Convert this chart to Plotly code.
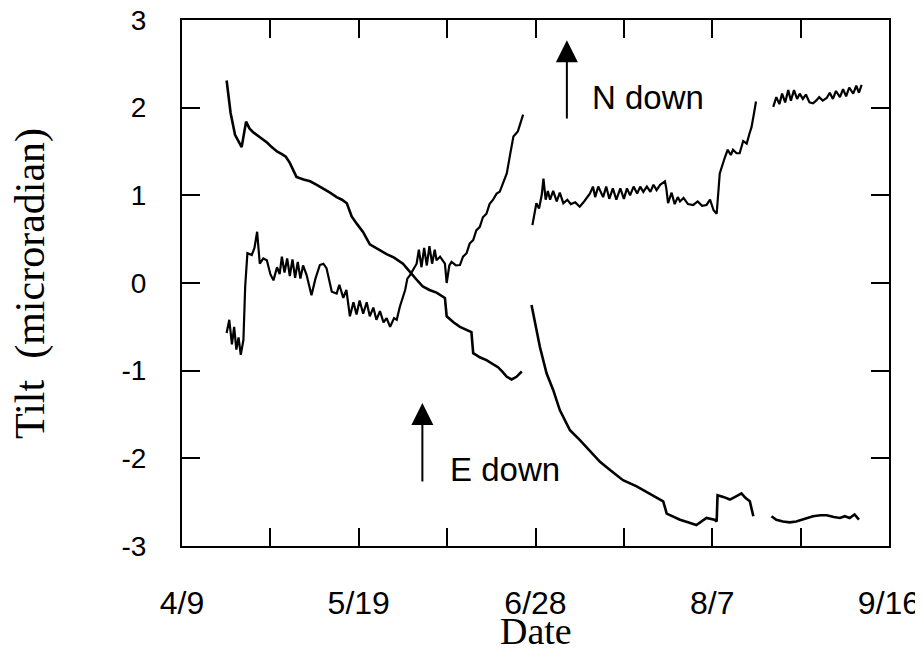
import plotly.graph_objects as go

# ---- data (days since 4/9, tilt in microradian) ----
tick_days = [0, 20, 40, 60, 80, 100, 120, 140, 160]
tick_text = ["4/9", "", "5/19", "", "6/28", "", "8/7", "", "9/16"]
y_ticks = [-3, -2, -1, 0, 1, 2, 3]
y_tick_text = ["-3", "-2", "-1", "0", "1", "2", "3"]

east_day = [10.1, 11.0, 12.0, 12.8, 13.5, 14.5, 15.3, 16.1, 17.2, 18.3, 19.3, 20.3, 21.5, 22.6, 23.5,
            24.4, 25.9, 27.5, 29.0, 30.5, 31.9, 33.5, 35.0, 36.2, 37.3, 38.4, 39.5, 41.0, 42.5, 44.5,
            46.3, 48.0, 50.0, 51.2, 52.3, 53.4, 54.5, 56.0, 57.6, 59.5, 59.9, 61.5, 62.9, 64.3, 65.5,
            65.9, 67.5, 68.9, 70.2, 71.5, 72.5, 73.5, 74.6, 75.7, 76.9,
            None,
            79.1, 80.0, 81.0, 82.5, 84.0, 85.5, 86.7, 87.8, 90.0, 92.3, 94.6, 96.8, 99.8, 102.9, 106.6,
            108.9, 109.7, 111.0, 112.7, 114.5, 116.4, 118.7, 120.5, 121.0, 121.2, 122.5, 124.0, 125.5,
            126.6, 127.5, 128.5, 129.3,
            None,
            133.4, 134.5, 136.0, 137.5, 139.0, 141.0, 142.8, 144.5, 145.9, 147.5, 148.9, 150.0, 151.1,
            152.2, 153.2]
east_tilt = [2.31, 1.94, 1.69, 1.62, 1.55, 1.84, 1.76, 1.72, 1.68, 1.63, 1.60, 1.55, 1.50, 1.47, 1.44,
             1.37, 1.21, 1.18, 1.16, 1.12, 1.08, 1.03, 0.98, 0.95, 0.91, 0.76, 0.68, 0.58, 0.44, 0.38,
             0.33, 0.29, 0.22, 0.15, 0.08, 0.02, -0.04, -0.08, -0.11, -0.17, -0.38, -0.45, -0.50, -0.53, -0.56,
             -0.80, -0.85, -0.88, -0.92, -0.96, -1.01, -1.07, -1.10, -1.07, -1.01,
             None,
             -0.25, -0.48, -0.73, -1.03, -1.22, -1.45, -1.58, -1.68, -1.79, -1.92, -2.04, -2.13, -2.25, -2.32, -2.42,
             -2.49, -2.63, -2.66, -2.70, -2.73, -2.76, -2.68, -2.70, -2.72, -2.42, -2.44, -2.47, -2.43,
             -2.40, -2.45, -2.49, -2.66,
             None,
             -2.66, -2.70, -2.72, -2.73, -2.72, -2.69, -2.66, -2.65, -2.65, -2.67, -2.68, -2.66, -2.68,
             -2.64, -2.70]

north_day = [10.1, 10.7, 11.3, 11.8, 12.3, 12.8, 13.3, 13.9, 14.3, 14.8, 15.8, 16.4, 17.0, 17.6, 18.4,
             19.2, 20.0, 20.7, 21.5, 22.1, 22.6, 23.2, 23.8, 24.4, 25.0, 25.6, 26.2, 26.8, 27.4, 28.2,
             29.3, 30.2, 31.2, 32.0, 32.7, 33.9, 35.0, 35.6, 36.5, 37.2, 38.0, 38.8, 39.5, 40.2, 41.0,
             41.8, 42.5, 43.3, 44.0, 44.8, 45.6, 46.3, 47.1, 48.0, 48.6, 49.3, 50.5, 51.0, 51.6, 52.3,
             53.1, 53.6, 54.2, 54.8, 55.4, 56.0, 56.6, 57.2, 57.6, 58.4, 59.5, 59.9, 60.5, 61.0, 62.0,
             62.9, 63.6, 64.4, 65.1, 65.9, 66.6, 67.4, 68.1, 68.9, 69.6, 70.4, 71.2, 71.9, 72.7, 73.5,
             74.2, 75.0, 76.0, 77.2,
             None,
             79.3, 80.2, 80.8, 81.4, 81.8, 82.3, 82.8, 83.3, 84.0, 84.8, 85.5, 86.3, 87.2, 88.0, 89.0,
             90.0, 91.0, 92.3, 93.0, 93.5, 94.2, 95.3, 96.0, 96.7, 97.5, 98.3, 99.2, 100.0, 100.7, 101.4,
             102.2, 103.0, 103.7, 104.4, 105.2, 106.0, 106.7, 107.4, 108.2, 109.3, 109.6, 110.0, 110.8,
             111.5, 112.2, 112.7, 113.5, 114.5, 115.7, 116.7, 117.7, 118.7, 119.5, 120.3, 121.0, 121.7,
             122.9, 123.5, 124.2, 124.7, 125.5, 126.2, 127.0, 127.8, 128.4, 128.9, 129.5, 129.9,
             None,
             133.8, 134.5, 135.2, 135.8, 136.5, 137.2, 137.8, 138.5, 139.2, 139.8, 140.5, 141.2, 142.0,
             142.8, 143.5, 144.2, 145.0, 145.9, 146.6, 147.3, 148.0, 148.9, 149.6, 150.3, 151.0, 151.9,
             152.6, 153.2, 153.8]
north_tilt = [-0.57, -0.42, -0.70, -0.50, -0.76, -0.62, -0.82, -0.65, -0.04, 0.34, 0.32, 0.40, 0.585, 0.22, 0.28,
              0.26, 0.10, 0.03, 0.18, 0.10, 0.30, 0.12, 0.28, 0.08, 0.27, 0.06, 0.24, 0.05, 0.20, 0.09,
              -0.14, 0.05, 0.205, 0.22, 0.17, -0.10, -0.12, -0.02, -0.17, -0.08, -0.38, -0.22, -0.36, -0.20, -0.35,
              -0.22, -0.38, -0.28, -0.42, -0.32, -0.45, -0.40, -0.50, -0.40, -0.42, -0.27, -0.08, 0.05, 0.09, 0.15,
              0.22, 0.38, 0.18, 0.40, 0.20, 0.42, 0.22, 0.38, 0.26, 0.30, 0.22, 0.00, 0.20, 0.24, 0.20,
              0.205, 0.30, 0.34, 0.45, 0.49, 0.60, 0.64, 0.75, 0.79, 0.90, 0.95, 1.02, 1.04, 1.15, 1.25,
              1.45, 1.67, 1.73, 1.92,
              None,
              0.66, 0.91, 0.85, 1.00, 1.19, 0.95, 1.05, 0.95, 1.05, 0.93, 1.03, 0.91, 0.95, 0.90, 0.92,
              0.87, 0.93, 1.02, 1.10, 0.98, 1.10, 0.98, 1.10, 0.96, 1.08, 0.95, 1.08, 0.96, 1.08, 1.00,
              1.10, 1.02, 1.10, 1.04, 1.10, 1.04, 1.12, 1.06, 1.12, 1.16, 1.08, 0.91, 1.03,
              0.90, 0.98, 0.93, 0.97, 0.90, 0.89, 0.93, 0.88, 0.89, 0.95, 0.83, 0.79, 1.25,
              1.44, 1.52, 1.46, 1.52, 1.48, 1.48, 1.62, 1.59, 1.70, 1.78, 1.95, 2.07,
              None,
              2.01, 2.12, 2.04, 2.16, 2.06, 2.20, 2.08, 2.20, 2.10, 2.16, 2.10, 2.15, 2.06,
              2.05, 2.08, 2.12, 2.08, 2.11, 2.17, 2.10, 2.19, 2.12, 2.21, 2.13, 2.23, 2.16,
              2.25, 2.17, 2.26]

# annotation labels / arrow anchors
labels = ["N down", "E down"]
label_day = [92.4, 60.2]
label_tilt = [2.12, -2.13]
arrow_day = [87.1, 54.4]
arrow_tip = [2.77, -1.37]
arrow_tail = [1.86, -2.28]

fig = go.Figure()
fig.add_trace(go.Scatter(x=east_day, y=east_tilt, mode="lines", name="E",
                         line=dict(color="black", width=2.6), connectgaps=False))
fig.add_trace(go.Scatter(x=north_day, y=north_tilt, mode="lines", name="N",
                         line=dict(color="black", width=2.2), connectgaps=False))

annotations = []
for i in range(2):
    annotations.append(dict(x=arrow_day[i], y=arrow_tip[i], ax=arrow_day[i], ay=arrow_tail[i],
                            xref="x", yref="y", axref="x", ayref="y", text="", showarrow=True,
                            arrowhead=2, arrowsize=2.2, arrowwidth=2, arrowcolor="black"))
    annotations.append(dict(x=label_day[i], y=label_tilt[i], xref="x", yref="y", text=labels[i],
                            showarrow=False, xanchor="left", yanchor="middle",
                            font=dict(family="Liberation Sans, Arial", size=33, color="black")))
annotations.append(dict(x=0.5, y=-0.162, xref="paper", yref="paper", text="Date", showarrow=False,
                        xanchor="center", yanchor="middle",
                        font=dict(family="Liberation Serif, Times New Roman", size=38, color="black")))
annotations.append(dict(x=-0.215, y=0.5, xref="paper", yref="paper", text="Tilt  (microradian)",
                        showarrow=False, textangle=-90, xanchor="center", yanchor="middle",
                        font=dict(family="Liberation Serif, Times New Roman", size=42, color="black")))

fig.update_layout(
    width=923, height=653,
    margin=dict(l=174, r=42, t=12, b=115, autoexpand=False),
    paper_bgcolor="white", plot_bgcolor="white",
    showlegend=False,
    annotations=annotations,
    font=dict(family="Liberation Sans, Arial", color="black"),
)
fig.update_xaxes(range=[0, 160], tickmode="array", tickvals=tick_days, ticktext=tick_text,
                 ticks="inside", ticklen=18, tickwidth=2, tickcolor="black",
                 showline=True, linewidth=2, linecolor="black", mirror="ticks",
                 showgrid=False, zeroline=False, ticklabelstandoff=28, automargin=False,
                 ticklabeloverflow="allow",
                 tickfont=dict(family="Liberation Sans Narrow, Arial Narrow, Liberation Sans", size=32, color="black"))
fig.update_yaxes(range=[-3, 3], tickmode="array", tickvals=y_ticks, ticktext=y_tick_text,
                 ticks="inside", ticklen=18, tickwidth=2, tickcolor="black",
                 showline=True, linewidth=2, linecolor="black", mirror="ticks",
                 showgrid=False, zeroline=False, ticklabelstandoff=28, automargin=False,
                 ticklabeloverflow="allow",
                 tickfont=dict(family="Liberation Sans, Arial", size=28, color="black"))

fig.write_html("out.html")
